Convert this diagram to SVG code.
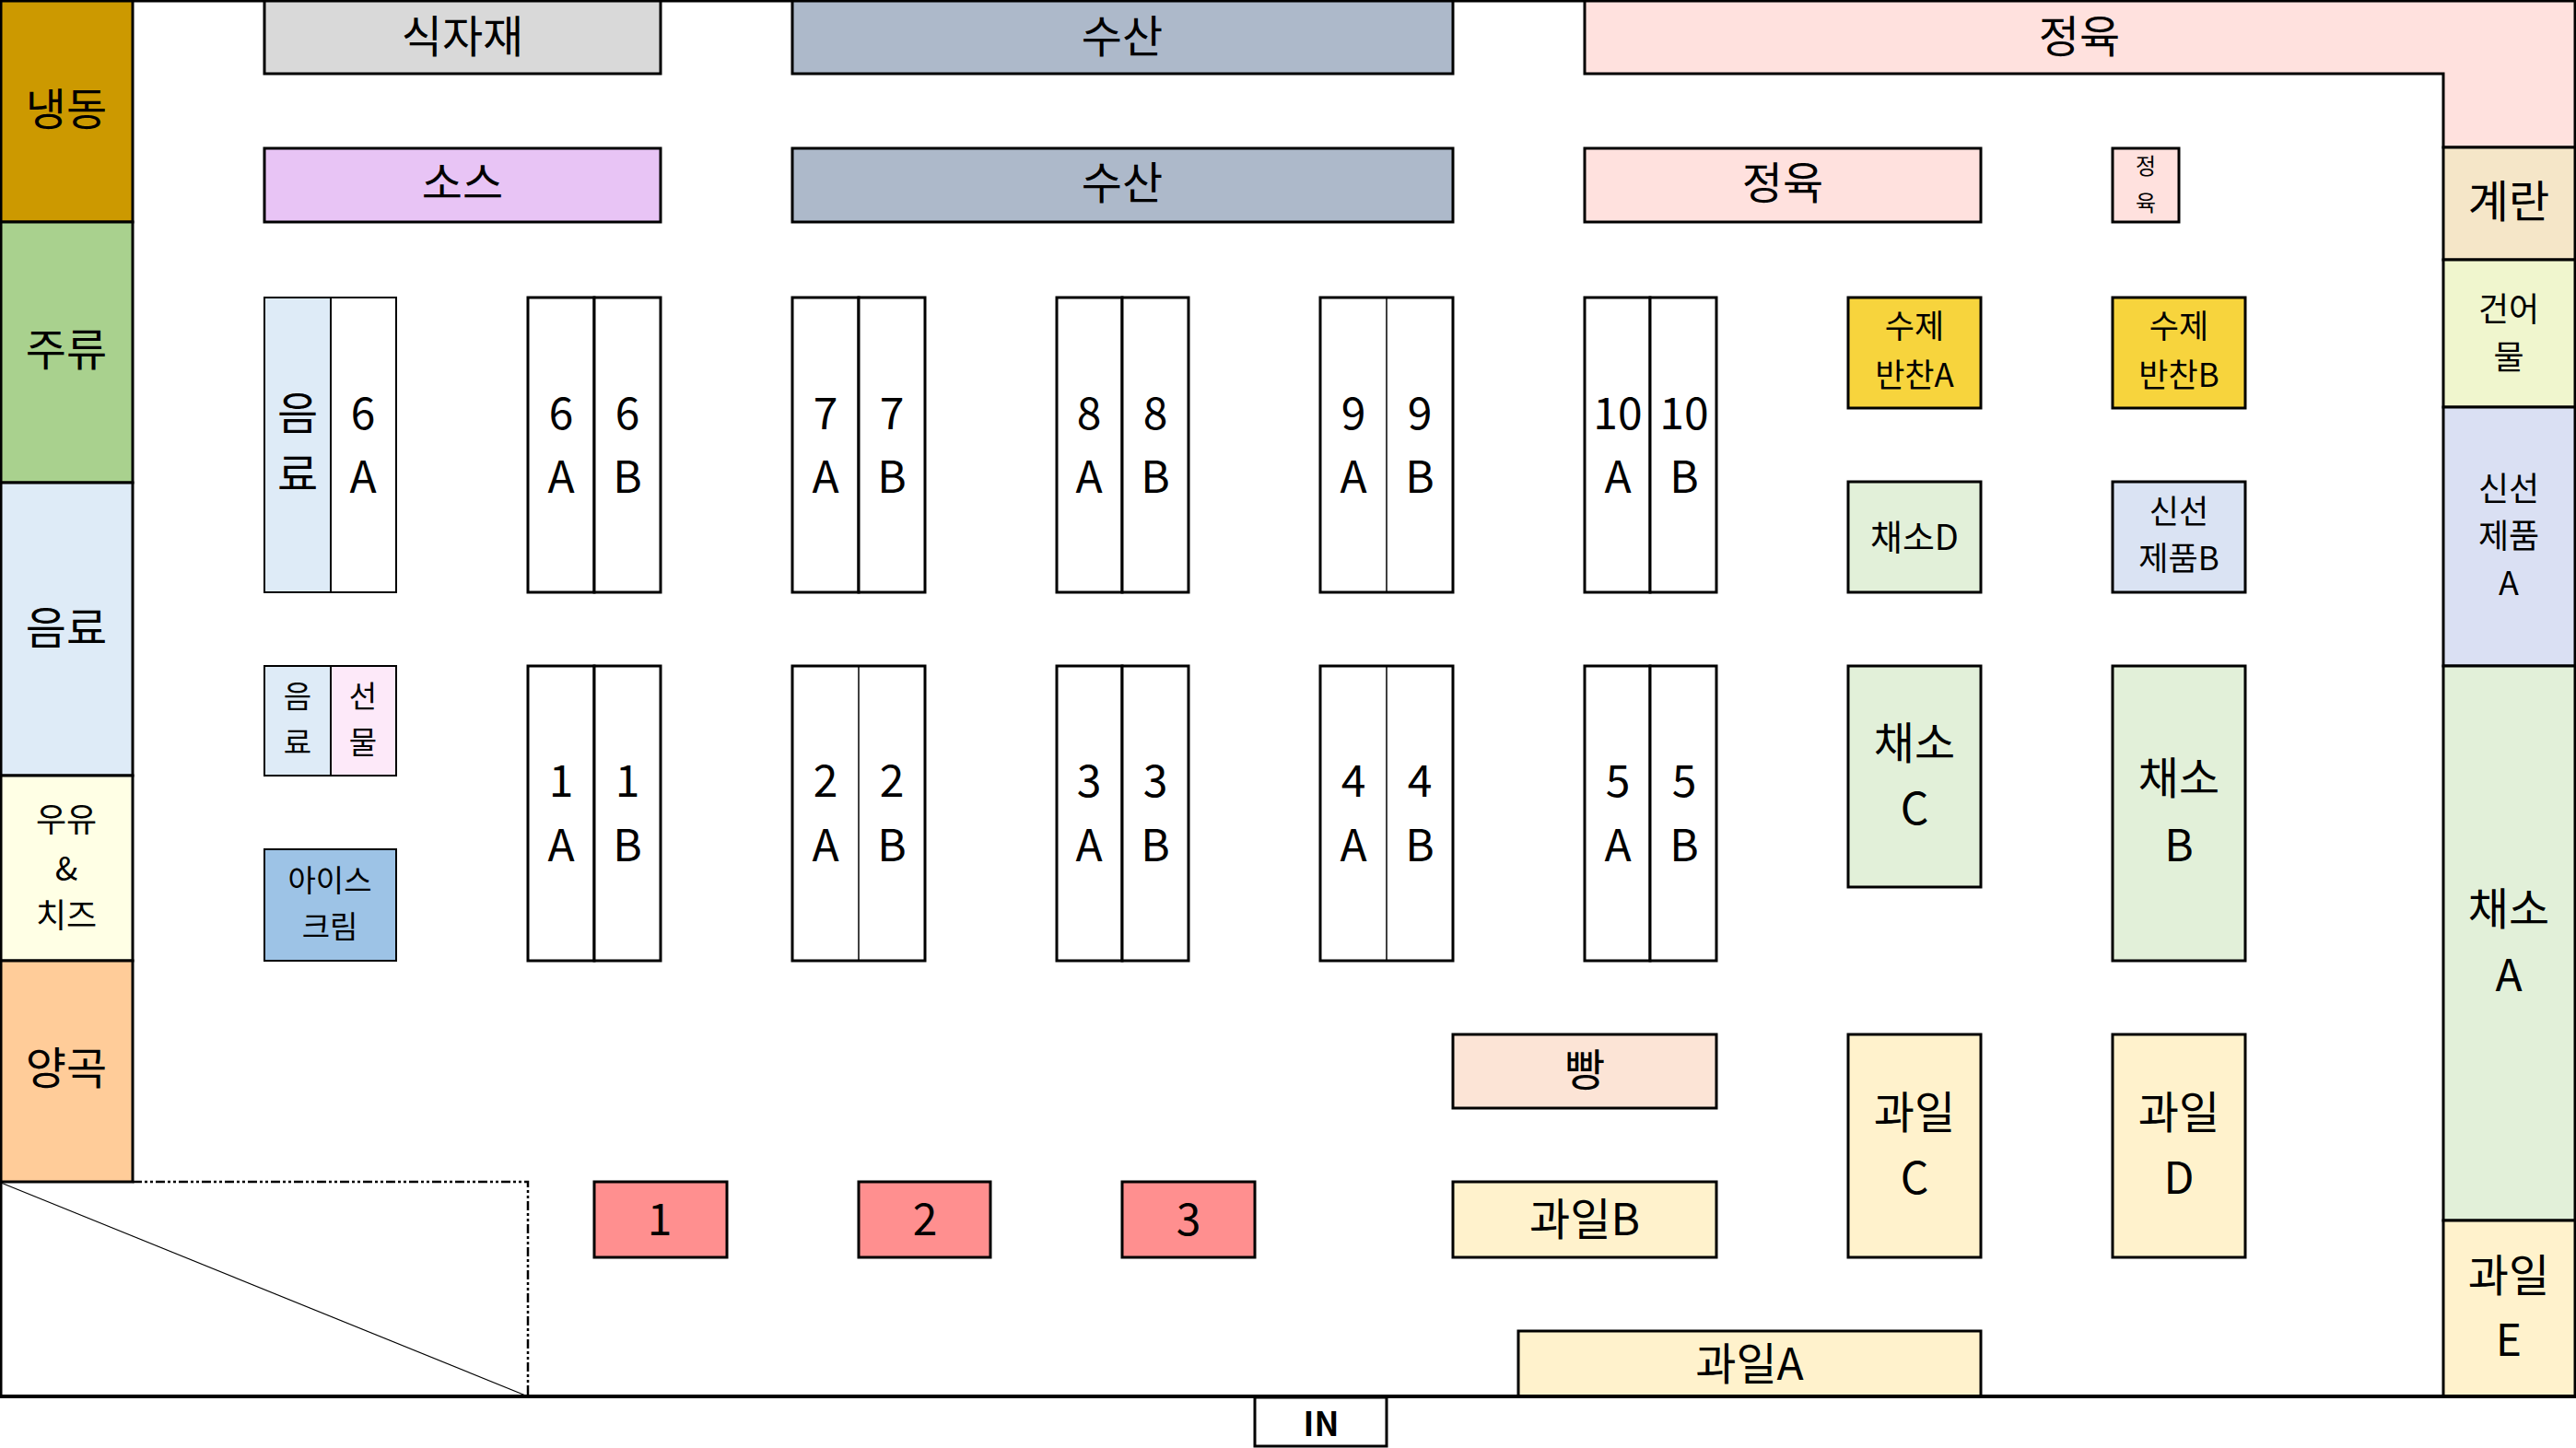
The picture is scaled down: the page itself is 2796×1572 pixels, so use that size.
<svg xmlns="http://www.w3.org/2000/svg" width="2796" height="1572" viewBox="0 0 2796 1572">
<style>
text{font-family:"Noto Sans CJK KR","Noto Sans",sans-serif;text-anchor:middle;fill:#000}
.l{font-size:48px}.m{font-size:36px}.s{font-size:33px}.r{font-size:35px}.d{font-size:38px}.xs{font-size:24px}.b{font-size:36px;font-weight:700}
rect,polygon{stroke:#000;stroke-width:3}
.t{stroke-width:2}
.w{fill:#fff}
.v{stroke:#000;stroke-width:1.5;fill:none}
</style>
<rect id="floor" x="1" y="1" width="2800" height="1515" fill="#fff" stroke-width="4"/>
<g id="left">
<rect x="1" y="1" width="143" height="240" fill="#CC9900"/><text class="l" x="72" y="136">냉동</text>
<rect x="1" y="241" width="143" height="283" fill="#A9D18E"/><text class="l" x="72" y="397">주류</text>
<rect x="1" y="524" width="143" height="318" fill="#DEEBF7"/><text class="l" x="72" y="699">음료</text>
<rect x="1" y="842" width="143" height="201" fill="#FFFFE5"/><text class="m" x="72" y="903">우유</text><text class="m" x="72" y="956">&amp;</text><text class="m" x="72" y="1007">치즈</text>
<rect x="1" y="1043" width="143" height="240" fill="#FFCC99"/><text class="l" x="72" y="1177">양곡</text>
</g>
<g id="top">
<rect x="287" y="1" width="430" height="79" fill="#D9D9D9"/><text class="l" x="502" y="57">식자재</text>
<rect x="860" y="1" width="717" height="79" fill="#ADB9CA"/><text class="l" x="1218" y="57">수산</text>
<polygon points="1720,1 2795,1 2795,160 2652,160 2652,80 1720,80" fill="#FFE1DE"/><text class="l" x="2257" y="57">정육</text>
<rect x="287" y="161" width="430" height="80" fill="#E8C4F5"/><text class="l" x="502" y="216">소스</text>
<rect x="860" y="161" width="717" height="80" fill="#ADB9CA"/><text class="l" x="1218" y="216">수산</text>
<rect x="1720" y="161" width="430" height="80" fill="#FFE1DE"/><text class="l" x="1935" y="216">정육</text>
<rect x="2293" y="161" width="72" height="80" fill="#FFE1DE"/><text class="xs" x="2329" y="189">정</text><text class="xs" x="2329" y="229">육</text>
</g>
<g id="right">
<rect x="2652" y="160" width="143" height="122" fill="#F5E6C8"/><text class="l" x="2723" y="236">계란</text>
<rect x="2652" y="282" width="143" height="160" fill="#F0F6CE"/><text class="m" x="2723" y="349">건어</text><text class="m" x="2723" y="401">물</text>
<rect x="2652" y="442" width="143" height="281" fill="#DAE0F3"/><text class="m" x="2723" y="544">신선</text><text class="m" x="2723" y="595">제품</text><text class="m" x="2723" y="646">A</text>
<rect x="2652" y="723" width="143" height="602" fill="#E2F0D9"/><text class="l" x="2723" y="1004">채소</text><text class="l" x="2723" y="1076">A</text>
<rect x="2652" y="1325" width="143" height="191" fill="#FFF2CC"/><text class="l" x="2723" y="1402">과일</text><text class="l" x="2723" y="1472">E</text>
</g>
<g id="shelves-top">
<rect class="t" x="287" y="323" width="72" height="320" fill="#DEEBF7"/><rect class="t w" x="359" y="323" width="71" height="320"/><text class="l" x="323" y="466">음</text><text class="l" x="323" y="532">료</text><text class="l" x="394" y="466">6</text><text class="l" x="394" y="535">A</text>
<rect class="w" x="573" y="323" width="72" height="320"/><rect class="w" x="645" y="323" width="72" height="320"/><text class="l" x="609" y="466">6</text><text class="l" x="609" y="535">A</text><text class="l" x="681" y="466">6</text><text class="l" x="681" y="535">B</text>
<rect class="w" x="860" y="323" width="72" height="320"/><rect class="w" x="932" y="323" width="72" height="320"/><text class="l" x="896" y="466">7</text><text class="l" x="896" y="535">A</text><text class="l" x="968" y="466">7</text><text class="l" x="968" y="535">B</text>
<rect class="w" x="1147" y="323" width="71" height="320"/><rect class="w" x="1218" y="323" width="72" height="320"/><text class="l" x="1182" y="466">8</text><text class="l" x="1182" y="535">A</text><text class="l" x="1254" y="466">8</text><text class="l" x="1254" y="535">B</text>
<rect class="w" x="1433" y="323" width="144" height="320"/><path class="v" d="M1505 323V643"/><text class="l" x="1469" y="466">9</text><text class="l" x="1469" y="535">A</text><text class="l" x="1541" y="466">9</text><text class="l" x="1541" y="535">B</text>
<rect class="w" x="1720" y="323" width="71" height="320"/><rect class="w" x="1791" y="323" width="72" height="320"/><text class="l" x="1756" y="466">10</text><text class="l" x="1756" y="535">A</text><text class="l" x="1828" y="466">10</text><text class="l" x="1828" y="535">B</text>
</g>
<g id="shelves-bottom">
<rect class="t" x="287" y="723" width="72" height="119" fill="#DEEBF7"/><rect class="t" x="359" y="723" width="71" height="119" fill="#FDE9F9"/><text class="s" x="323" y="768">음</text><text class="s" x="323" y="818">료</text><text class="s" x="394" y="768">선</text><text class="s" x="394" y="818">물</text>
<rect class="t" x="287" y="922" width="143" height="121" fill="#9DC3E6"/><text class="s" x="358" y="968">아이스</text><text class="s" x="358" y="1018">크림</text>
<rect class="w" x="573" y="723" width="72" height="320"/><rect class="w" x="645" y="723" width="72" height="320"/><text class="l" x="609" y="865">1</text><text class="l" x="609" y="935">A</text><text class="l" x="681" y="865">1</text><text class="l" x="681" y="935">B</text>
<rect class="w" x="860" y="723" width="144" height="320"/><path class="v" d="M932 723V1043"/><text class="l" x="896" y="865">2</text><text class="l" x="896" y="935">A</text><text class="l" x="968" y="865">2</text><text class="l" x="968" y="935">B</text>
<rect class="w" x="1147" y="723" width="71" height="320"/><rect class="w" x="1218" y="723" width="72" height="320"/><text class="l" x="1182" y="865">3</text><text class="l" x="1182" y="935">A</text><text class="l" x="1254" y="865">3</text><text class="l" x="1254" y="935">B</text>
<rect class="w" x="1433" y="723" width="144" height="320"/><path class="v" d="M1505 723V1043"/><text class="l" x="1469" y="865">4</text><text class="l" x="1469" y="935">A</text><text class="l" x="1541" y="865">4</text><text class="l" x="1541" y="935">B</text>
<rect class="w" x="1720" y="723" width="71" height="320"/><rect class="w" x="1791" y="723" width="72" height="320"/><text class="l" x="1756" y="865">5</text><text class="l" x="1756" y="935">A</text><text class="l" x="1828" y="865">5</text><text class="l" x="1828" y="935">B</text>
</g>
<g id="fresh">
<rect x="2006" y="323" width="144" height="120" fill="#F7D43D"/><text class="r" x="2078" y="367">수제</text><text class="r" x="2078" y="420">반찬A</text>
<rect x="2293" y="323" width="144" height="120" fill="#F7D43D"/><text class="r" x="2365" y="367">수제</text><text class="r" x="2365" y="420">반찬B</text>
<rect x="2006" y="523" width="144" height="120" fill="#E2F0D9"/><text class="d" x="2078" y="597">채소D</text>
<rect x="2293" y="523" width="144" height="120" fill="#DAE3F3"/><text class="r" x="2365" y="568">신선</text><text class="r" x="2365" y="619">제품B</text>
<rect x="2006" y="723" width="144" height="240" fill="#E2F0D9"/><text class="l" x="2078" y="824">채소</text><text class="l" x="2078" y="895">C</text>
<rect x="2293" y="723" width="144" height="320" fill="#E2F0D9"/><text class="l" x="2365" y="862">채소</text><text class="l" x="2365" y="935">B</text>
<rect x="1577" y="1123" width="286" height="80" fill="#FCE4D6"/><text class="l" x="1720" y="1179">빵</text>
<rect x="1577" y="1283" width="286" height="82" fill="#FFF2CC"/><text class="l" x="1720" y="1341">과일B</text>
<rect x="2006" y="1123" width="144" height="242" fill="#FFF2CC"/><text class="l" x="2078" y="1225">과일</text><text class="l" x="2078" y="1296">C</text>
<rect x="2293" y="1123" width="144" height="242" fill="#FFF2CC"/><text class="l" x="2365" y="1225">과일</text><text class="l" x="2365" y="1296">D</text>
<rect x="1648" y="1445" width="502" height="71" fill="#FFF2CC"/><text class="l" x="1899" y="1498">과일A</text>
</g>
<g id="counters">
<rect x="645" y="1283" width="144" height="82" fill="#FF8F8F"/><text class="l" x="716" y="1341">1</text>
<rect x="932" y="1283" width="143" height="82" fill="#FF8F8F"/><text class="l" x="1004" y="1341">2</text>
<rect x="1218" y="1283" width="144" height="82" fill="#FF8F8F"/><text class="l" x="1290" y="1341">3</text>
</g>
<g id="connectors" fill="none" stroke="#000">
<path d="M144 1283H573V1516" stroke-width="2.5" stroke-dasharray="10 3 3 3 3 3"/>
<path d="M1 1284L573 1516" stroke-width="1.2"/>
</g>
<path d="M0 1516H2796" stroke="#000" stroke-width="4"/>
<g id="entrance">
<rect x="1362" y="1517" width="143" height="53" class="w"/><text class="b" x="1434" y="1559">IN</text>
</g>
</svg>
